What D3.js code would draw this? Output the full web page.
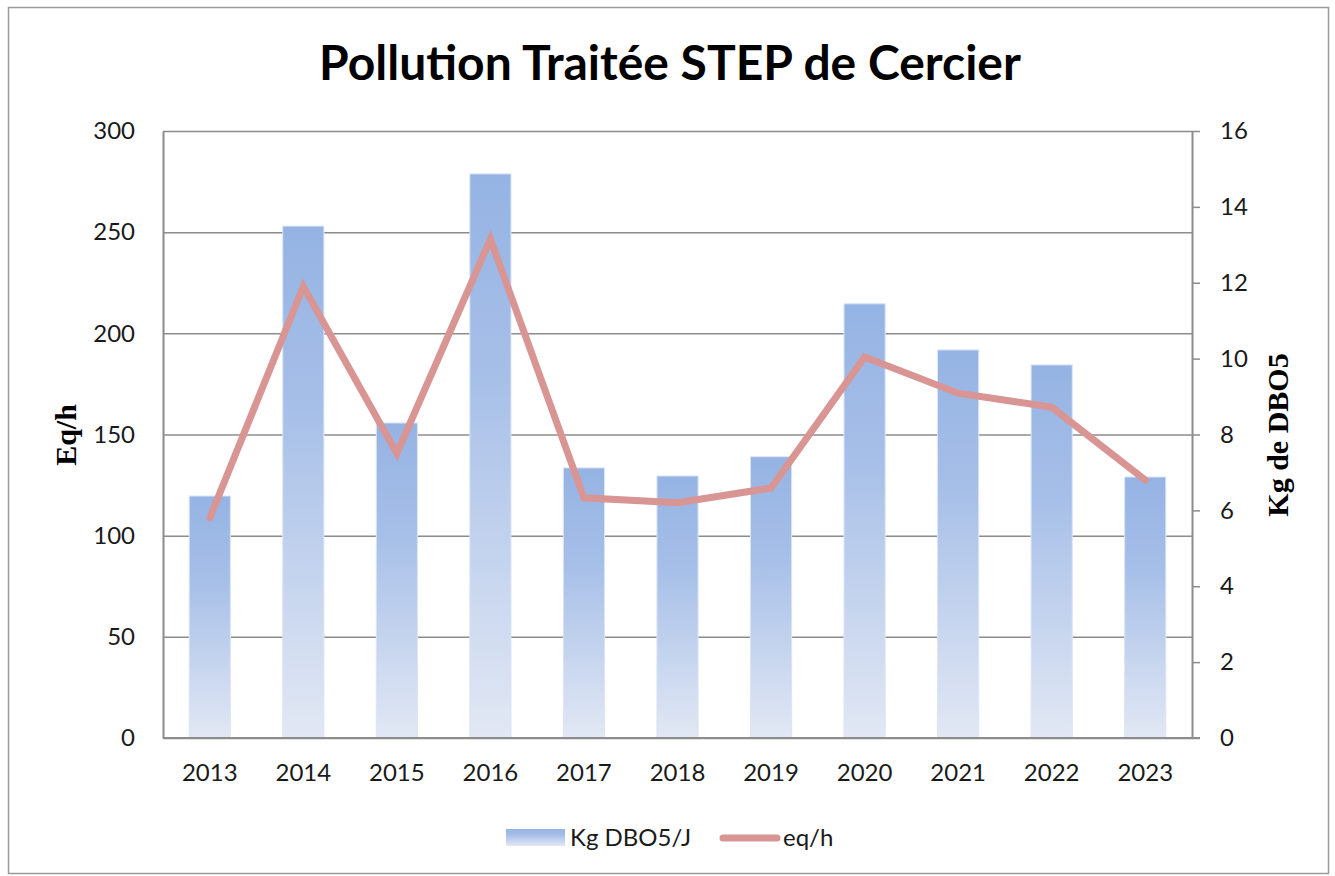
<!DOCTYPE html>
<html>
<head>
<meta charset="utf-8">
<script src="https://cdn.jsdelivr.net/npm/d3@7"></script>
<style>
  body { margin: 0; background: #fff; }
  .tick text { font-family: Lato, "Open Sans", sans-serif; font-size: 24px; fill: #1a1a1a; }
</style>
</head>
<body>
<script>
// values
var years = ["2013", "2014", "2015", "2016", "2017", "2018", "2019", "2020", "2021", "2022", "2023"];
var kgDbo5 = [119.6, 253, 155.7, 278.8, 133.5, 129.5, 139, 214.6, 191.8, 184.4, 129];
var eqh = [5.8, 11.9, 7.5, 13.15, 6.33, 6.2, 6.59, 10.04, 9.09, 8.72, 6.8];
var leftTicks = [0, 50, 100, 150, 200, 250, 300];
var rightTicks = [0, 2, 4, 6, 8, 10, 12, 14, 16];

var w = 1335, h = 876;
var plotL = 163, plotR = 1192, plotT = 131, plotB = 738;

var svg = d3.select("body").append("svg")
    .attr("width", w)
    .attr("height", h);

// outer chart frame
svg.append("rect")
    .attr("x", 8.5).attr("y", 7.5)
    .attr("width", 1320).attr("height", 866)
    .attr("fill", "#fff")
    .attr("stroke", "#9a9a9a")
    .attr("stroke-width", 1.5);

var defs = svg.append("defs");
var grad = defs.append("linearGradient")
    .attr("id", "barGrad")
    .attr("x1", 0).attr("y1", 0).attr("x2", 0).attr("y2", 1);
grad.append("stop").attr("offset", "0%").attr("stop-color", "#95b3e3");
grad.append("stop").attr("offset", "35%").attr("stop-color", "#a6bfe8");
grad.append("stop").attr("offset", "100%").attr("stop-color", "#e2e8f4");

var x = d3.scaleBand().domain(years).range([plotL, plotR]).paddingInner(0.56).paddingOuter(0.28);
var yL = d3.scaleLinear().domain([0, 300]).range([plotB, plotT]);
var yR = d3.scaleLinear().domain([0, 16]).range([plotB, plotT]);

// gridlines
svg.append("g")
    .selectAll("line")
    .data(leftTicks)
    .enter().append("line")
    .attr("x1", plotL).attr("x2", plotR)
    .attr("y1", function (d) { return yL(d) + 0.5; })
    .attr("y2", function (d) { return yL(d) + 0.5; })
    .attr("stroke", "#8c8c8c")
    .attr("stroke-width", 1.5);

// bars
svg.append("g")
    .selectAll("rect")
    .data(kgDbo5)
    .enter().append("rect")
    .attr("x", function (d, i) { return x(years[i]); })
    .attr("y", function (d) { return yL(d); })
    .attr("width", x.bandwidth())
    .attr("height", function (d) { return plotB - yL(d); })
    .attr("fill", "url(#barGrad)")
    .attr("stroke", "#dbe4f5")
    .attr("stroke-width", 1);

// left axis
var axL = svg.append("g")
    .attr("transform", "translate(" + plotL + ",0)")
    .call(d3.axisLeft(yL).tickValues(leftTicks).tickSize(0).tickPadding(28));
axL.select(".domain").attr("stroke", "#8c8c8c").attr("stroke-width", 2);

// right axis
var axR = svg.append("g")
    .attr("transform", "translate(" + plotR + ",0)")
    .call(d3.axisRight(yR).tickValues(rightTicks).tickSize(8).tickSizeOuter(0).tickPadding(20));
axR.select(".domain").attr("stroke", "#8c8c8c").attr("stroke-width", 2);
axR.selectAll(".tick line").attr("stroke", "#8c8c8c").attr("stroke-width", 1.5);

// bottom axis
var axB = svg.append("g")
    .attr("transform", "translate(0," + plotB + ")")
    .call(d3.axisBottom(x).tickSize(0).tickPadding(26));
axB.select(".domain").attr("stroke", "#8c8c8c").attr("stroke-width", 2)
    .attr("d", "M" + plotL + ",0H" + (plotR + 8));

// line
var line = d3.line()
    .x(function (d, i) { return x(years[i]) + x.bandwidth() / 2; })
    .y(function (d) { return yR(d); });
svg.append("path")
    .datum(eqh)
    .attr("d", line)
    .attr("fill", "none")
    .attr("stroke", "#d99594")
    .attr("stroke-width", 7)
    .attr("stroke-linejoin", "miter")
    .attr("stroke-linecap", "round");

// title
svg.append("text")
    .attr("x", 670).attr("y", 80)
    .attr("text-anchor", "middle")
    .style("font-family", "Lato, 'Open Sans', sans-serif")
    .style("font-weight", "bold")
    .style("font-size", "48px")
    .attr("fill", "#000")
    .text("Pollution Traitée STEP de Cercier");

// axis titles
svg.append("text")
    .attr("transform", "translate(76,435) rotate(-90)")
    .attr("text-anchor", "middle")
    .style("font-family", "'Liberation Serif', 'DejaVu Serif', serif")
    .style("font-weight", "bold")
    .style("font-size", "30px")
    .text("Eq/h");
svg.append("text")
    .attr("transform", "translate(1288,435) rotate(-90)")
    .attr("text-anchor", "middle")
    .style("font-family", "'Liberation Serif', 'DejaVu Serif', serif")
    .style("font-weight", "bold")
    .style("font-size", "30px")
    .text("Kg de DBO5");

// legend
var lg = svg.append("g");
lg.append("rect")
    .attr("x", 506).attr("y", 829).attr("width", 59).attr("height", 17)
    .attr("fill", "url(#barGrad)");
lg.append("text")
    .attr("x", 570).attr("y", 846)
    .style("font-family", "Lato, 'Open Sans', sans-serif")
    .style("font-size", "24px")
    .attr("fill", "#1a1a1a")
    .text("Kg DBO5/J");
lg.append("line")
    .attr("x1", 723).attr("x2", 777).attr("y1", 838).attr("y2", 838)
    .attr("stroke", "#d99594").attr("stroke-width", 7).attr("stroke-linecap", "round");
lg.append("text")
    .attr("x", 783).attr("y", 846)
    .style("font-family", "Lato, 'Open Sans', sans-serif")
    .style("font-size", "24px")
    .attr("fill", "#1a1a1a")
    .text("eq/h");
</script>
</body>
</html>
